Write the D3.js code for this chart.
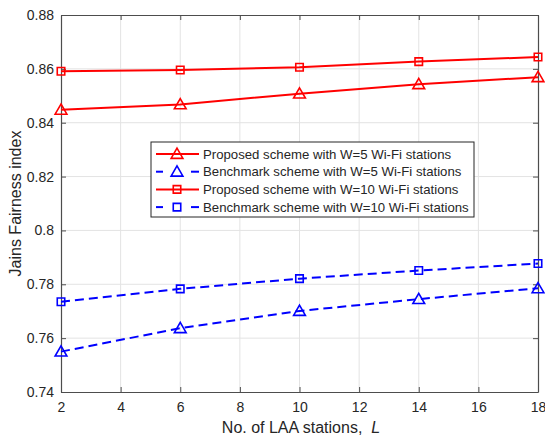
<!DOCTYPE html>
<html>
<head>
<meta charset="utf-8">
<script src="https://cdn.jsdelivr.net/npm/d3@7"></script>
<style>
    body { margin: 0; background: #fff; }
    svg text { font-family: Arial, "Liberation Sans", sans-serif; fill: #262626; }
</style>
</head>
<body>
<div id="chart"></div>
<script>
// Data
const stations = [2, 6, 10, 14, 18];
const proposedW5 = [0.8448, 0.8468, 0.8508, 0.8543, 0.8569];
const benchmarkW5 = [0.7550, 0.7637, 0.7701, 0.7745, 0.7785];
const proposedW10 = [0.8591, 0.8596, 0.8606, 0.8627, 0.8644];
const benchmarkW10 = [0.7735, 0.7783, 0.7821, 0.7851, 0.7877];
const xTicks = [2, 4, 6, 8, 10, 12, 14, 16, 18];
const yTicks = [0.74, 0.76, 0.78, 0.8, 0.82, 0.84, 0.86, 0.88];

const series = [
    { name: 'Proposed scheme with W=5 Wi-Fi stations', values: proposedW5, color: '#ff0000', dashed: false, marker: 'triangle' },
    { name: 'Benchmark scheme with W=5 Wi-Fi stations', values: benchmarkW5, color: '#0000ff', dashed: true, marker: 'triangle' },
    { name: 'Proposed scheme with W=10 Wi-Fi stations', values: proposedW10, color: '#ff0000', dashed: false, marker: 'square' },
    { name: 'Benchmark scheme with W=10 Wi-Fi stations', values: benchmarkW10, color: '#0000ff', dashed: true, marker: 'square' }
];

const width = 545, height = 440;
const margin = { top: 15, right: 7, bottom: 48, left: 61 };

const svg = d3.select('#chart').append('svg')
    .attr('width', width)
    .attr('height', height);

const x = d3.scaleLinear().domain([2, 18]).range([margin.left, width - margin.right]);
const y = d3.scaleLinear().domain([0.74, 0.88]).range([height - margin.bottom, margin.top]);

// Grid lines
const grid = svg.append('g').attr('stroke', '#e3e3e3').attr('stroke-width', 1);
grid.selectAll('.vg').data(xTicks.slice(1, -1)).enter().append('line')
    .attr('x1', d => x(d)).attr('x2', d => x(d))
    .attr('y1', y(0.74)).attr('y2', y(0.88));
grid.selectAll('.hg').data(yTicks.slice(1, -1)).enter().append('line')
    .attr('x1', x(2)).attr('x2', x(18))
    .attr('y1', d => y(d)).attr('y2', d => y(d));

// Axes (ticks pointing inwards, box all round)
const xAxis = d3.axisBottom(x).tickValues(xTicks).tickSizeInner(-5).tickSizeOuter(0).tickPadding(10);
const yAxis = d3.axisLeft(y).tickValues(yTicks).tickSizeInner(-5).tickSizeOuter(0).tickPadding(7)
    .tickFormat(d => d3.format('~g')(d));
const xTop = d3.axisTop(x).tickValues(xTicks).tickSizeInner(-5).tickSizeOuter(0).tickFormat('');
const yRight = d3.axisRight(y).tickValues(yTicks).tickSizeInner(-5).tickSizeOuter(0).tickFormat('');

function styleAxis(g) {
    g.select('.domain').attr('stroke', '#4d4d4d').attr('stroke-width', 1.2);
    g.selectAll('.tick line').attr('stroke', '#4d4d4d');
    g.selectAll('.tick text').attr('font-size', 14).attr('fill', '#262626')
        .style('font-family', 'Arial, "Liberation Sans", sans-serif');
}

svg.append('g').attr('transform', `translate(0,${y(0.74)})`).call(xAxis).call(styleAxis);
svg.append('g').attr('transform', `translate(${x(2)},0)`).call(yAxis).call(styleAxis);
svg.append('g').attr('transform', `translate(0,${y(0.88)})`).call(xTop).call(styleAxis);
svg.append('g').attr('transform', `translate(${x(18)},0)`).call(yRight).call(styleAxis);

// Axis labels
const xLabel = svg.append('text')
    .attr('x', 301).attr('y', 433)
    .attr('text-anchor', 'middle')
    .attr('font-size', 16);
xLabel.append('tspan').text('No. of LAA stations,\u00a0\u00a0');
xLabel.append('tspan').attr('font-style', 'italic').text('L');

svg.append('text')
    .attr('transform', `translate(15,${(y(0.74) + y(0.88)) / 2}) rotate(-90)`)
    .attr('text-anchor', 'middle')
    .attr('dy', '0.35em')
    .attr('font-size', 16)
    .text('Jains Fairness index');

// Marker shapes
const triangle = d3.symbol().type(d3.symbolTriangle).size(60);
const square = d3.symbol().type(d3.symbolSquare).size(56);

function drawMarker(g, type, color) {
    g.append('path')
        .attr('d', type === 'triangle' ? triangle() : square())
        .attr('fill', 'none')
        .attr('stroke', color)
        .attr('stroke-width', 1.6)
        .attr('transform', type === 'triangle' ? 'translate(0,1)' : null);
}

// Lines and markers
const line = d3.line().x((d, i) => x(stations[i])).y(d => y(d));

series.forEach(s => {
    svg.append('path')
        .datum(s.values)
        .attr('d', line)
        .attr('fill', 'none')
        .attr('stroke', s.color)
        .attr('stroke-width', 2)
        .attr('stroke-dasharray', s.dashed ? '9,5' : null);

    s.values.forEach((v, i) => {
        const g = svg.append('g').attr('transform', `translate(${x(stations[i])},${y(v)})`);
        drawMarker(g, s.marker, s.color);
    });
});

// Legend
const legend = svg.append('g');
legend.append('rect')
    .attr('x', 151).attr('y', 142)
    .attr('width', 323).attr('height', 75)
    .attr('fill', '#fff')
    .attr('stroke', '#262626')
    .attr('stroke-width', 1);

series.forEach((s, i) => {
    const cy = 154 + i * 17.7;
    const row = legend.append('g');
    if (s.dashed) {
        row.append('line').attr('x1', 156).attr('x2', 163).attr('y1', cy).attr('y2', cy)
            .attr('stroke', s.color).attr('stroke-width', 2);
        row.append('line').attr('x1', 191).attr('x2', 199).attr('y1', cy).attr('y2', cy)
            .attr('stroke', s.color).attr('stroke-width', 2);
    } else {
        row.append('line').attr('x1', 156).attr('x2', 199).attr('y1', cy).attr('y2', cy)
            .attr('stroke', s.color).attr('stroke-width', 2);
    }
    const m = row.append('g').attr('transform', `translate(177,${cy})`);
    drawMarker(m, s.marker, s.color);
    row.append('text')
        .attr('x', 203).attr('y', cy)
        .attr('dy', '0.35em')
        .attr('font-size', 13.2)
        .text(s.name);
});
</script>
</body>
</html>
